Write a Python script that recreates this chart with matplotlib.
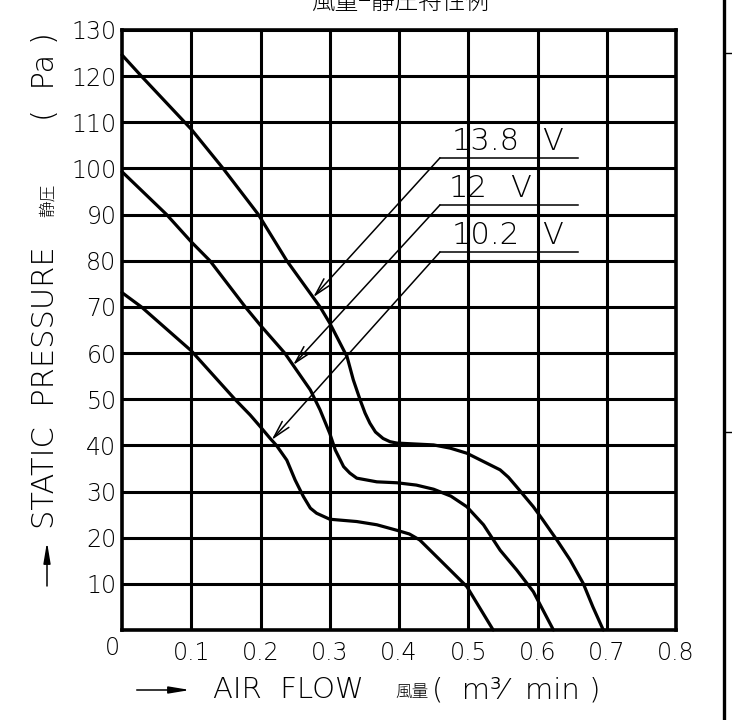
import numpy as np
import matplotlib.pyplot as plt
from matplotlib.lines import Line2D

plt.rcParams['font.family'] = ['DejaVu Sans', 'Noto Sans CJK JP']
plt.rcParams['font.weight'] = 'light'

# air flow (m3/min) vs static pressure (Pa)
x_138 = [0, 0.028, 0.1, 0.146, 0.197, 0.238, 0.286, 0.30, 0.325, 0.334, 0.344, 0.351,
         0.358, 0.366, 0.377, 0.387, 0.397, 0.45, 0.474, 0.498, 0.522, 0.546, 0.558,
         0.57, 0.594, 0.608, 0.628, 0.647, 0.666, 0.68, 0.695]
p_138 = [124.6, 120, 108.5, 100, 90, 80, 70, 66.5, 59.2, 54.2, 49.8, 47,
         44.8, 42.9, 41.5, 40.8, 40.5, 40.1, 39.4, 38.3, 36.5, 34.7, 33.1,
         31, 26.7, 23.8, 19.5, 15.2, 10.1, 5, 0]

x_12 = [0, 0.0645, 0.1, 0.127, 0.178, 0.2, 0.235, 0.247, 0.272, 0.286, 0.30, 0.308,
        0.32, 0.329, 0.339, 0.368, 0.397, 0.425, 0.45, 0.475, 0.498, 0.522, 0.546,
        0.57, 0.594, 0.623]
p_12 = [99.3, 90, 84.1, 80, 70, 66, 60, 57.4, 52, 47.7, 42.6, 39,
        35.4, 34, 32.9, 32.1, 31.9, 31.4, 30.5, 29, 26.7, 22.8, 17.3,
        13, 8.3, 0]

x_102 = [0, 0.028, 0.1, 0.163, 0.185, 0.2, 0.214, 0.223, 0.238, 0.25, 0.262, 0.272,
         0.281, 0.30, 0.339, 0.368, 0.397, 0.415, 0.43, 0.459, 0.498, 0.536]
p_102 = [73.1, 70, 60.5, 50, 46.6, 44, 41.5, 40, 36.8, 32.5, 28.9, 26.4,
         25.3, 24, 23.5, 22.8, 21.6, 20.8, 19.5, 15.2, 9.4, 0]

volts = ['13.8', '12', '10.2']
tip_x = [0.276, 0.247, 0.216]
label_y = [102.3, 92.1, 81.9]

xticks = [0.1, 0.2, 0.3, 0.4, 0.5, 0.6, 0.7, 0.8]
yticks = [10, 20, 30, 40, 50, 60, 70, 80, 90, 100, 110, 120, 130]

W, H = 732, 720
fig = plt.figure(figsize=(W / 100, H / 100), dpi=100)
ax = fig.add_axes([122 / W, 90 / H, 554 / W, 600 / H])

def fx(px):
    return px / W

def fy(py):
    return 1 - py / H

ax.set_xlim(0, 0.8)
ax.set_ylim(0, 130)
ax.set_xticks(xticks)
ax.set_xticklabels([f'{v:.1f}' for v in xticks])
ax.set_yticks(yticks)
ax.set_yticklabels([str(v) for v in yticks])
ax.tick_params(length=0, labelsize=17, colors='black')
ax.tick_params(axis='x', pad=8)
ax.tick_params(axis='y', pad=4)
ax.grid(True, color='black', lw=2.2)
for s in ax.spines.values():
    s.set_linewidth(2.6)
ax.set_axisbelow(True)

curves = [(x_138, p_138), (x_12, p_12), (x_102, p_102)]
for cx, cp in curves:
    ax.plot(cx, cp, color='black', lw=2.3, solid_capstyle='round',
            solid_joinstyle='round', clip_on=False)

# voltage labels with leader arrows
for i, (cx, cp) in enumerate(curves):
    ty = np.interp(tip_x[i], cx, cp)
    ax.plot([0.4592, 0.6585], [label_y[i], label_y[i]], color='black', lw=1.1)
    ax.annotate('', xy=(tip_x[i], ty), xytext=(0.4592, label_y[i]),
                arrowprops=dict(arrowstyle='->,head_length=0.8,head_width=0.2',
                                color='black', lw=1.1, shrinkA=0, shrinkB=0,
                                mutation_scale=16))

ax.text(0.5748, label_y[0] + 3.5, volts[0], ha='right', va='center', fontsize=22)
ax.text(0.6224, label_y[0] + 3.5, 'V', ha='center', va='center', fontsize=22)
ax.text(0.527, label_y[1] + 3.5, volts[1], ha='right', va='center', fontsize=22)
ax.text(0.5748, label_y[1] + 3.5, 'V', ha='center', va='center', fontsize=22)
ax.text(0.5748, label_y[2] + 3.5, volts[2], ha='right', va='center', fontsize=22)
ax.text(0.6224, label_y[2] + 3.5, 'V', ha='center', va='center', fontsize=22)

# corner zero
fig.text(fx(112), fy(648), '0', ha='center', va='center', fontsize=17)

# x label
fig.add_artist(Line2D([fx(137), fx(178)], [fy(690), fy(690)], color='black', lw=1.1))
ax.annotate('', xy=(fx(190), fy(690)), xytext=(fx(170), fy(690)), xycoords='figure fraction',
            arrowprops=dict(arrowstyle='-|>,head_length=0.9,head_width=0.15', color='black',
                            lw=1.1, shrinkA=0, shrinkB=0, mutation_scale=14))
fig.text(fx(213), fy(690), 'AIR  FLOW', ha='left', va='center', fontsize=21)
fig.text(fx(412), fy(692), '風量', ha='center', va='center', fontsize=12,
         family=['Noto Sans CJK JP', 'DejaVu Sans'])
fig.text(fx(432), fy(690), '(  m³⁄  min )', ha='left', va='center', fontsize=21)

# y label
ax.annotate('', xy=(fx(47), fy(542)), xytext=(fx(47), fy(586)), xycoords='figure fraction',
            arrowprops=dict(arrowstyle='-|>,head_length=0.9,head_width=0.15', color='black',
                            lw=1.1, shrinkA=0, shrinkB=0, mutation_scale=14))
fig.text(fx(46), fy(388), 'STATIC  PRESSURE', rotation=90, ha='center', va='center', fontsize=22)
fig.text(fx(48), fy(200), '静圧', rotation=90, ha='center', va='center', fontsize=12,
         family=['Noto Sans CJK JP', 'DejaVu Sans'])
fig.text(fx(46), fy(77), '(  Pa )', rotation=90, ha='center', va='center', fontsize=22)

# title (cut at the top edge, as in the drawing)
fig.text(fx(400), fy(15), '風量−静圧特性例', ha='center', va='bottom', fontsize=17,
         family=['Noto Sans CJK JP', 'DejaVu Sans'])

# drawing frame on the right
fig.add_artist(Line2D([fx(724), fx(724)], [0, 1], color='black', lw=2.4))
fig.add_artist(Line2D([fx(725), fx(732)], [fy(53), fy(53)], color='black', lw=1))
fig.add_artist(Line2D([fx(725), fx(732)], [fy(432), fy(432)], color='black', lw=1))

fig.savefig('out.png', dpi=100, facecolor='white')
